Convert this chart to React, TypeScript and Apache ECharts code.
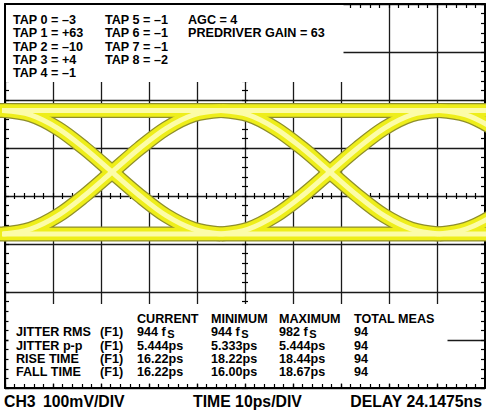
import React, { useEffect, useRef } from 'react';
import * as echarts from 'echarts';

// Axes: 10 ps/div horizontally, 100 mV/div vertically
const TIME_MIN = 0;
const TIME_MAX = 100;
const MV_MIN = -400;
const MV_MAX = 400;

// Eye diagram traces, [time ps, level mV]
const topRail = [[-5, 178], [105, 178]];
const bottomRail = [[-5, -79], [105, -79]];
const rise1 = [[-0.4, -79], [5.3, -69], [11.0, -41], [16.6, 1], [22.3, 50], [28.0, 99], [33.6, 141], [39.3, 169], [45.0, 178]];
const fall1 = [[-0.4, 178], [5.3, 169], [11.0, 141], [16.6, 99], [22.3, 50], [28.0, 1], [33.6, -41], [39.3, -69], [45.0, -79]];
const rise2 = [[45.0, -79], [50.7, -69], [56.3, -41], [62.0, 1], [67.7, 50], [73.4, 99], [79.0, 141], [84.7, 169], [90.4, 178]];
const fall2 = [[45.0, 178], [50.7, 169], [56.3, 141], [62.0, 99], [67.7, 50], [73.4, 1], [79.0, -41], [84.7, -69], [90.4, -79]];
const rise3 = [[90.4, -79], [96.0, -69], [101.7, -41], [107.4, 1], [113.1, 50], [118.8, 99]];
const fall3 = [[90.4, 178], [96.0, 169], [101.7, 141], [107.4, 99], [113.1, 50], [118.8, 1]];

// Annotation texts
const tapLeft = ['TAP 0 = –3', 'TAP 1 = +63', 'TAP 2 = –10', 'TAP 3 = +4', 'TAP 4 = –1'];
const tapRight = ['TAP 5 = –1', 'TAP 6 = –1', 'TAP 7 = –1', 'TAP 8 = –2'];
const settings = ['AGC = 4', 'PREDRIVER GAIN = 63'];
const measHeaders = ['CURRENT', 'MINIMUM', 'MAXIMUM', 'TOTAL MEAS'];
const measRows = ['JITTER RMS', 'JITTER p-p', 'RISE TIME', 'FALL TIME'];
const measSource = ['(F1)', '(F1)', '(F1)', '(F1)'];
const measCurrent = ['944 fs', '5.444ps', '16.22ps', '16.22ps'];
const measMinimum = ['944 fs', '5.333ps', '18.22ps', '16.00ps'];
const measMaximum = ['982 fs', '5.444ps', '18.44ps', '18.67ps'];
const measTotal = ['94', '94', '94', '94'];
const footer = ['CH3', '100mV/DIV', 'TIME 10ps/DIV', 'DELAY 24.1475ns'];

const FONT = '"Liberation Sans", Arial, Helvetica, sans-serif';
const SMALL = 12.6;

function txt(text: string, x: number, y: number, size = SMALL, align = 'left') {
  return {
    type: 'text',
    x,
    y,
    z: 101,
    silent: true,
    style: {
      text,
      fill: '#000',
      font: `bold ${size}px ${FONT}`,
      align,
      verticalAlign: 'middle',
    },
  };
}

function valueText(v: string, x: number, y: number) {
  if (v.endsWith(' fs')) {
    const n = v.slice(0, -1);
    return [txt(n, x, y), txt('S', x + 30.2, y + 1.6, 11)];
  }
  return [txt(v, x, y)];
}

export default function App() {
  const ref = useRef<HTMLDivElement>(null);
  useEffect(() => {
    if (!ref.current) return;
    const chart = echarts.init(ref.current, null, { renderer: 'svg' });

    const base = {
      type: 'value',
      min: TIME_MIN,
      max: TIME_MAX,
      axisLabel: { show: false },
      splitLine: { show: false },
    };
    const ybase = { ...base, min: MV_MIN, max: MV_MAX };
    const edgeLine = { show: true, onZero: false, lineStyle: { color: '#000', width: 2 } };
    const noLine = { show: false, onZero: false };
    const edgeTick = { show: true, inside: true, length: 4, lineStyle: { color: '#000', width: 1.2 } };
    const centerTick = { show: true, inside: true, length: 3, lineStyle: { color: '#000', width: 1.2 } };

    const xAxis = [
      { ...base, interval: 10, axisLine: noLine, axisTick: { show: false }, splitLine: { show: true, lineStyle: { color: '#1a1a1a', width: 1.3 } } },
      { ...base, interval: 2, position: 'bottom', axisLine: edgeLine, axisTick: edgeTick },
      { ...base, interval: 2, position: 'top', axisLine: edgeLine, axisTick: edgeTick },
      { ...base, interval: 2, position: 'bottom', offset: -192, axisLine: noLine, axisTick: centerTick },
      { ...base, interval: 2, position: 'top', offset: -192, axisLine: noLine, axisTick: centerTick },
    ];
    const yAxis = [
      { ...ybase, interval: 100, axisLine: noLine, axisTick: { show: false }, splitLine: { show: true, lineStyle: { color: '#1a1a1a', width: 1.3 } } },
      { ...ybase, interval: 20, position: 'left', axisLine: edgeLine, axisTick: edgeTick },
      { ...ybase, interval: 20, position: 'right', axisLine: edgeLine, axisTick: edgeTick },
      { ...ybase, interval: 20, position: 'left', offset: -240, axisLine: noLine, axisTick: centerTick },
      { ...ybase, interval: 20, position: 'right', offset: -240, axisLine: noLine, axisTick: centerTick },
    ];

    const eyePaths = [topRail, bottomRail, rise1, fall1, rise2, fall2, rise3, fall3];
    const layers = [
      { color: '#8e8e2c', width: 15 },
      { color: '#eeee1a', width: 12.5 },
      { color: '#fcfca8', width: 5 },
    ];
    const series: any[] = [];
    layers.forEach((l) => {
      eyePaths.forEach((p) => {
        series.push({
          type: 'line',
          data: p,
          xAxisIndex: 0,
          yAxisIndex: 0,
          showSymbol: false,
          symbol: 'none',
          smooth: p.length > 2 ? 0.35 : false,
          silent: true,
          lineStyle: { color: l.color, width: l.width },
        });
      });
    });

    const graphics: any[] = [
      { type: 'rect', z: 100, silent: true, shape: { x: 6, y: 5, width: 337.5, height: 77 }, style: { fill: '#fff' } },
      { type: 'rect', z: 100, silent: true, shape: { x: 8.5, y: 304, width: 439, height: 79.5 }, style: { fill: '#fff' } },
    ];
    const tapY = [20, 33.3, 46.5, 59.7, 73];
    tapLeft.forEach((t, i) => graphics.push(txt(t, 13, tapY[i])));
    tapRight.forEach((t, i) => graphics.push(txt(t, 105, tapY[i])));
    settings.forEach((t, i) => graphics.push(txt(t, 188, tapY[i])));

    const colX = [137, 211, 279, 354];
    measHeaders.forEach((t, i) => graphics.push(txt(t, colX[i], 318.7)));
    const rowY = [332.4, 345.7, 358.7, 371.9];
    measRows.forEach((t, i) => {
      graphics.push(txt(t, 16, rowY[i]));
      graphics.push(txt(measSource[i], 100, rowY[i]));
      graphics.push(...valueText(measCurrent[i], colX[0], rowY[i]));
      graphics.push(...valueText(measMinimum[i], colX[1], rowY[i]));
      graphics.push(...valueText(measMaximum[i], colX[2], rowY[i]));
      graphics.push(txt(measTotal[i], colX[3], rowY[i]));
    });

    graphics.push(txt(footer[0], 4, 401.7, 15.8));
    graphics.push(txt(footer[1], 43, 401.7, 15.8));
    graphics.push(txt(footer[2], 193, 401.7, 15.8));
    graphics.push(txt(footer[3], 482, 401.7, 15.8, 'right'));

    chart.setOption({
      animation: false,
      backgroundColor: '#fff',
      grid: { left: 5, top: 4, width: 480, height: 384, show: false, containLabel: false },
      xAxis,
      yAxis,
      series,
      graphic: { elements: graphics },
    });
    return () => chart.dispose();
  }, []);
  return (
    <div
      ref={ref}
      style={{ position: 'absolute', left: 0, top: 0, width: 486, height: 419, background: '#fff' }}
    />
  );
}
